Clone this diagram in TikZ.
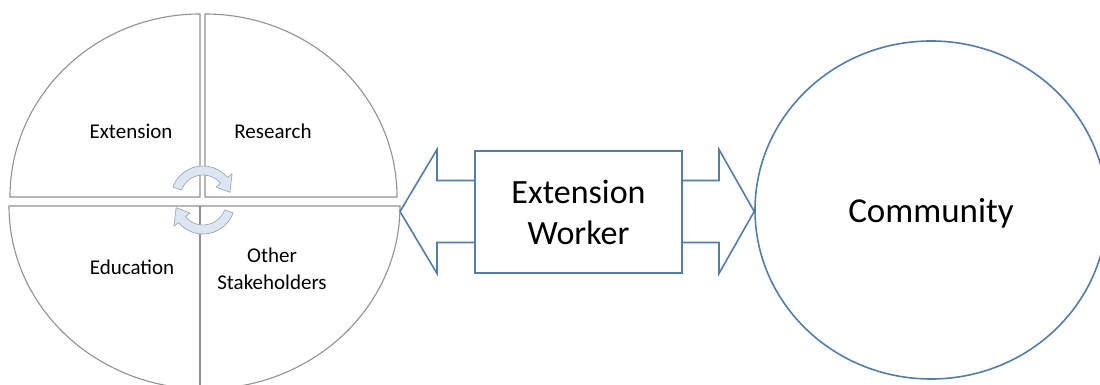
\documentclass[tikz,border=0pt]{standalone}
\usepackage{fontspec}
\setmainfont{Carlito}
\usetikzlibrary{shapes.geometric,calc}
\definecolor{blueline}{RGB}{84,124,170}
\definecolor{quadline}{RGB}{145,145,145}
\definecolor{cycfill}{RGB}{220,230,242}
\definecolor{cycline}{RGB}{160,168,178}
\tikzset{
  quad/.style={draw=quadline, line width=1.1pt, fill=white},
  cyc/.style={draw=cycline, line width=0.7pt, fill=cycfill, line join=round},
  blk/.style={draw=blueline, line width=1.6pt, fill=white},
  small/.style={font=\fontsize{21}{27}\selectfont, inner sep=0pt, align=center},
  big/.style={font=\fontsize{34}{41}\selectfont, align=center},
}
\begin{document}
\begin{tikzpicture}[x=1pt,y=1pt]
\useasboundingbox (0,0) rectangle (1100,385);
\begin{scope}
\clip (0,0) rectangle (1100,385);
% left pie
\draw[quad] (200,188) -- (10,188) arc[start angle=180, end angle=90, x radius=190pt, y radius=183pt] -- cycle;
\draw[quad] (205,188) -- (205,371) arc[start angle=90, end angle=0, x radius=192pt, y radius=183pt] -- cycle;
\draw[quad] (9,179) arc[start angle=180, end angle=360, x radius=195.5pt, y radius=183pt] -- cycle;
\draw[quad] (200,179) -- (200,-5);
% cycle arrows
\begin{scope}[shift={(203,187)}]
\draw[cyc] (160:32pt) arc[start angle=160, end angle=40, radius=32pt] -- (40:38pt) -- (12:27.5pt) -- (40:17pt) -- (40:23pt) arc[start angle=40, end angle=160, radius=23pt] -- cycle;
\end{scope}
\begin{scope}[shift={(203,183)}]
\draw[cyc] (340:32pt) arc[start angle=340, end angle=220, radius=32pt] -- (220:38pt) -- (192:27.5pt) -- (220:17pt) -- (220:23pt) arc[start angle=220, end angle=340, radius=23pt] -- cycle;
\end{scope}
% labels
\node[small, anchor=base] (ext) at (131,246) {Extension};
\node[small, anchor=base] (res) at (273,246) {Research};
\node[small, anchor=base] (edu) at (132,110) {Education};
\node[small] (oth) at (272,116) {Other\\Stakeholders};
% community
\node[ellipse, draw=blueline, line width=1.6pt, minimum width=352pt, minimum height=338pt, inner sep=0pt, font=\fontsize{35}{42}\selectfont, text depth=0pt] (comm) at (931,175) {Community};
% double arrow
\coordinate (ltip) at (400,173.5);
\draw[blk, line join=miter] (ltip) -- (437,235.5) -- (437,204.5) -- (719,204.5) -- (719,235.5) -- (comm.west |- ltip) -- (719,111.5) -- (719,142.5) -- (437,142.5) -- (437,111.5) -- cycle;
\node[blk, minimum width=207pt, minimum height=122pt, inner sep=0pt, big] (ew) at (578.5,173) {Extension\\Worker};
\end{scope}
\end{tikzpicture}
\end{document}
